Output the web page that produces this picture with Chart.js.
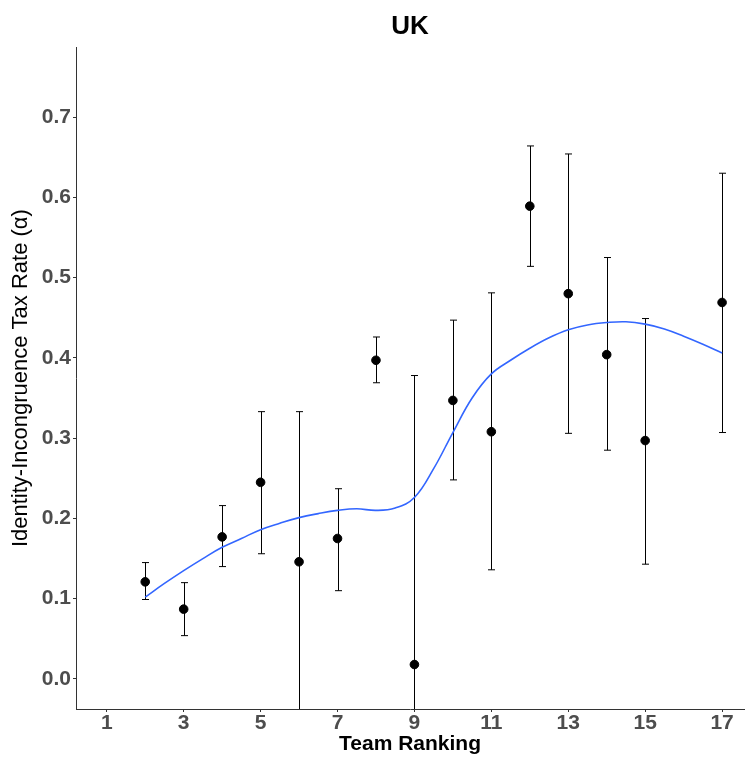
<!DOCTYPE html>
<html>
<head>
<meta charset="utf-8">
<script src="https://cdn.jsdelivr.net/npm/chart.js@4.4.1/dist/chart.umd.min.js"></script>
<style>
  html, body { margin: 0; padding: 0; background: #fff; }
  #wrap { width: 745px; height: 757px; }
</style>
</head>
<body>
<div id="wrap"><canvas id="ukChart"></canvas></div>
<script>
// team ranking vs tax rate, with interval bounds
const rankings = [2, 3, 4, 5, 6, 7, 8, 9, 10, 11, 12, 13, 14, 15, 17];
const taxRate = [0.121, 0.087, 0.177, 0.245, 0.146, 0.175, 0.397, 0.018, 0.347, 0.308, 0.589, 0.480, 0.404, 0.297, 0.469];
const lowerCI = [0.099, 0.054, 0.140, 0.156, -0.041, 0.110, 0.369, -0.343, 0.248, 0.136, 0.514, 0.306, 0.285, 0.143, 0.307];
const upperCI = [0.145, 0.120, 0.216, 0.333, 0.333, 0.237, 0.426, 0.378, 0.447, 0.481, 0.664, 0.654, 0.525, 0.449, 0.630];

// smoothed trend line
const smoothX = [2, 2.5, 3, 3.5, 4, 4.5, 5, 5.5, 6, 6.5, 7, 7.5, 8, 8.5, 9, 9.5, 10, 10.5, 11, 11.5, 12, 12.5, 13, 13.5, 14, 14.5, 15, 15.5, 16, 16.5, 17];
const smoothY = [0.102, 0.119, 0.135, 0.150, 0.164, 0.175, 0.186, 0.194, 0.201, 0.206, 0.210, 0.212, 0.210, 0.213, 0.226, 0.262, 0.307, 0.350, 0.380, 0.397, 0.412, 0.425, 0.435, 0.441, 0.444, 0.445, 0.442, 0.436, 0.427, 0.417, 0.406];

const xTicks = [1, 3, 5, 7, 9, 11, 13, 15, 17];
const yTicks = [0, 0.1, 0.2, 0.3, 0.4, 0.5, 0.6, 0.7];

const tickGrey = "#4d4d4d";

// vertical interval bars drawn under the points
const errorBars = {
  id: "errorBars",
  beforeDatasetsDraw(chart) {
    const ctx = chart.ctx;
    const xs = chart.scales.x;
    const ys = chart.scales.y;
    const area = chart.chartArea;
    ctx.save();
    ctx.beginPath();
    ctx.rect(area.left, area.top, area.right - area.left, area.bottom - area.top);
    ctx.clip();
    ctx.strokeStyle = "#000";
    ctx.lineWidth = 1;
    rankings.forEach((r, i) => {
      const px = Math.round(xs.getPixelForValue(r)) + 0.5;
      const top = ys.getPixelForValue(upperCI[i]);
      const bot = ys.getPixelForValue(lowerCI[i]);
      ctx.beginPath();
      ctx.moveTo(px, top);
      ctx.lineTo(px, bot);
      ctx.moveTo(px - 3.5, top);
      ctx.lineTo(px + 3.5, top);
      ctx.moveTo(px - 3.5, bot);
      ctx.lineTo(px + 3.5, bot);
      ctx.stroke();
    });
    ctx.restore();
  }
};

const ctx = document.getElementById("ukChart").getContext("2d");
new Chart(ctx, {
  type: "scatter",
  data: {
    datasets: [
      {
        type: "line",
        label: "Trend",
        data: smoothX.map((x, i) => ({ x: x, y: smoothY[i] })),
        borderColor: "#3366FF",
        borderWidth: 1.6,
        pointRadius: 0,
        tension: 0.4,
        fill: false,
        order: 0
      },
      {
        label: "UK",
        data: rankings.map((x, i) => ({ x: x, y: taxRate[i] })),
        backgroundColor: "#000",
        borderColor: "#000",
        pointRadius: 4.3,
        pointHoverRadius: 4.3,
        order: 1
      }
    ]
  },
  options: {
    responsive: true,
    maintainAspectRatio: false,
    animation: false,
    layout: { autoPadding: false, padding: { left: 0, right: 1, top: 0, bottom: 0 } },
    plugins: {
      legend: { display: false },
      tooltip: { enabled: false },
      title: {
        display: true,
        text: "UK",
        fullSize: false,
        color: "#000",
        font: { family: "Liberation Sans", size: 26, weight: "bold" },
        padding: { top: 11, bottom: 5 }
      }
    },
    scales: {
      x: {
        type: "linear",
        min: 0.2,
        max: 17.57,
        afterBuildTicks: (scale) => { scale.ticks = xTicks.map(v => ({ value: v })); },
        afterFit: (scale) => {
          scale.height = 48;
          scale.paddingLeft = 0;
          scale.paddingRight = 0;
        },
        border: { display: true, color: "#333", width: 1 },
        grid: { display: true, drawOnChartArea: false, drawTicks: true, tickLength: 3, color: "#333" },
        ticks: {
          color: tickGrey,
          padding: -1,
          maxRotation: 0,
          font: { family: "Liberation Sans", size: 21, weight: "bold" },
          callback: (v) => String(v)
        },
        title: {
          display: true,
          text: "Team Ranking",
          color: "#000",
          padding: { top: 0, bottom: 0 },
          font: { family: "Liberation Sans", size: 21, weight: "bold" }
        }
      },
      y: {
        min: -0.0374,
        max: 0.787,
        afterBuildTicks: (scale) => { scale.ticks = yTicks.map(v => ({ value: v })); },
        afterFit: (scale) => { scale.width = 76; },
        border: { display: true, color: "#333", width: 1 },
        grid: { display: true, drawOnChartArea: false, drawTicks: true, tickLength: 3, color: "#333" },
        ticks: {
          color: tickGrey,
          padding: 2,
          font: { family: "Liberation Sans", size: 21, weight: "bold" },
          callback: (v) => Number(v).toFixed(1)
        },
        title: {
          display: true,
          text: "Identity-Incongruence Tax Rate (α)",
          color: "#000",
          padding: { top: 8, bottom: 0 },
          font: { family: "Liberation Sans", size: 22 }
        }
      }
    }
  },
  plugins: [errorBars]
});
</script>
</body>
</html>
